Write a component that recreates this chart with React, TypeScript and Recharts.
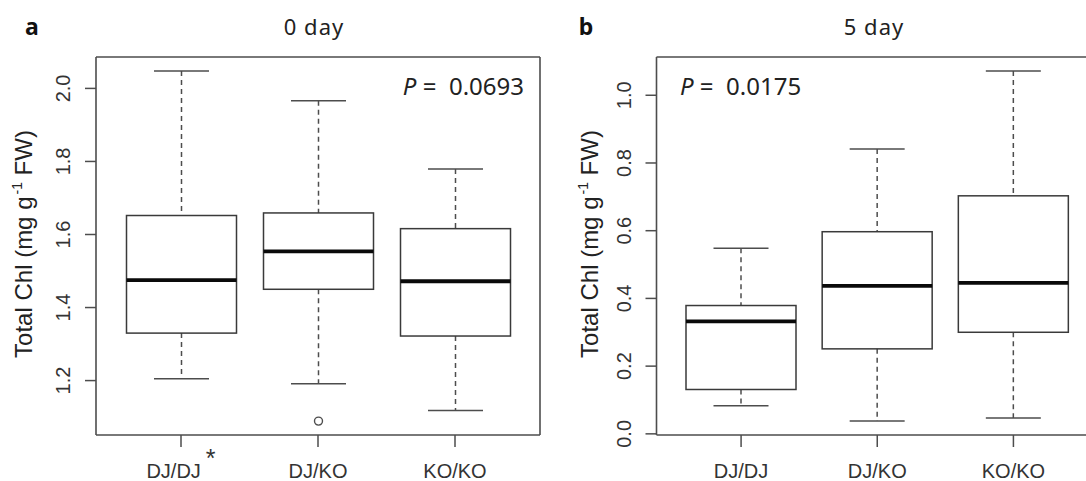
import React from 'react';
import { ComposedChart, Bar, XAxis, YAxis } from 'recharts';

const groups = ['DJ/DJ', 'DJ/KO', 'KO/KO'];

// panel a: 0 day
const low0 = [1.205, 1.191, 1.118];
const q1Day0 = [1.33, 1.45, 1.322];
const med0 = [1.475, 1.554, 1.472];
const q3Day0 = [1.652, 1.659, 1.616];
const high0 = [2.048, 1.966, 1.779];
const out0 = [null, 1.089, null];
const ticks0 = [1.2, 1.4, 1.6, 1.8, 2.0];

// panel b: 5 day
const low5 = [0.083, 0.038, 0.047];
const q1Day5 = [0.131, 0.251, 0.3];
const med5 = [0.332, 0.437, 0.446];
const q3Day5 = [0.379, 0.597, 0.703];
const high5 = [0.548, 0.841, 1.072];
const out5 = [null, null, null];
const ticks5 = [0, 0.2, 0.4, 0.6, 0.8, 1.0];

const build = (low: number[], q1: number[], med: number[], q3: number[], high: number[], out: (number | null)[]) =>
  groups.map((name, i) => ({ name, low: low[i], q1: q1[i], med: med[i], q3: q3[i], high: high[i], out: out[i] }));

const data0 = build(low0, q1Day0, med0, q3Day0, high0, out0);
const data5 = build(low5, q1Day5, med5, q3Day5, high5, out5);

const LINE = '#4d4d4d';
const TICK_FONT = '"Liberation Sans", Arial, sans-serif';
const TEXT_FONT = '"Noto Sans", "Open Sans", sans-serif';

const BoxShape = (props: any) => {
  const { x, y, width, height, payload } = props;
  if (!payload || width == null) return null;
  const { low, q1, med, q3, high, out } = payload;
  const top = Math.min(y, y + height);
  const h = Math.abs(height);
  // linear map inside the [low, high] bar that recharts placed on the y scale
  const py = (v: number) => top + (h * (high - v)) / (high - low);
  const cx = x + width / 2;
  const cap = width / 4;
  return (
    <g>
      <line x1={cx} x2={cx} y1={py(high)} y2={py(q3)} stroke={LINE} strokeWidth={1.5} strokeDasharray="5 4" />
      <line x1={cx} x2={cx} y1={py(q1)} y2={py(low)} stroke={LINE} strokeWidth={1.5} strokeDasharray="5 4" />
      <line x1={cx - cap} x2={cx + cap} y1={py(high)} y2={py(high)} stroke={LINE} strokeWidth={1.5} />
      <line x1={cx - cap} x2={cx + cap} y1={py(low)} y2={py(low)} stroke={LINE} strokeWidth={1.5} />
      <rect x={x} y={py(q3)} width={width} height={py(q1) - py(q3)} fill="none" stroke="#3a3a3a" strokeWidth={1.5} />
      <line x1={x} x2={x + width} y1={py(med)} y2={py(med)} stroke="#0a0a0a" strokeWidth={3.8} />
      {out != null && <circle cx={cx} cy={py(out)} r={4} fill="none" stroke={LINE} strokeWidth={1.4} />}
    </g>
  );
};

interface PanelProps {
  data: any[];
  domain: [number, number];
  ticks: number[];
  left: number;
  width: number;
  axisWidth: number;
  marginRight: number;
  star?: boolean;
}

const Panel: React.FC<PanelProps> = ({ data, domain, ticks, left, width, axisWidth, marginRight, star }) => {
  const yTick = (p: any) => (
    <text
      transform={`translate(${p.x - 15}, ${p.y}) rotate(-90)`}
      textAnchor="middle"
      fontFamily={TICK_FONT}
      fontSize={20}
      fill="#333"
    >
      {Number(p.payload.value).toFixed(1)}
    </text>
  );
  const xTick = (p: any) => (
    <text x={p.x} y={p.y + 31} textAnchor="middle" fontFamily={TICK_FONT} fontSize={20} fill="#333">
      {p.payload.value}
      {star && p.payload.value === 'DJ/DJ' && (
        <tspan dx={5} dy={-11} fontSize={25}>*</tspan>
      )}
    </text>
  );
  return (
    <div style={{ position: 'absolute', left, top: 0 }}>
      <ComposedChart width={width} height={481} data={data} margin={{ top: 56, right: marginRight, bottom: 0, left: 0 }}>
        <XAxis
          dataKey="name"
          height={46}
          padding={{ left: 16.5, right: 16.5 }}
          axisLine={{ stroke: LINE, strokeWidth: 1.6 }}
          tickLine={{ stroke: LINE, strokeWidth: 1.5 }}
          tickSize={12}
          tickMargin={0}
          tick={xTick}
          interval={0}
        />
        <XAxis xAxisId="top" dataKey="name" orientation="top" height={1} tick={false} tickLine={false} axisLine={{ stroke: LINE, strokeWidth: 1.6 }} />
        <YAxis
          domain={domain}
          ticks={ticks}
          type="number"
          allowDataOverflow
          width={axisWidth}
          axisLine={{ stroke: LINE, strokeWidth: 1.6 }}
          tickLine={{ stroke: LINE, strokeWidth: 1.5 }}
          tickSize={11}
          tickMargin={0}
          tick={yTick}
          interval={0}
        />
        <YAxis yAxisId="right" orientation="right" width={1} domain={domain} tick={false} tickLine={false} axisLine={{ stroke: LINE, strokeWidth: 1.6 }} />
        <Bar dataKey={(d: any) => [d.low, d.high]} barSize={110} shape={<BoxShape />} isAnimationActive={false} />
      </ComposedChart>
    </div>
  );
};

const YLabel = ({ x, y }: { x: number; y: number }) => (
  <text transform={`translate(${x}, ${y}) rotate(-90)`} textAnchor="middle" fontFamily={TICK_FONT} fontSize={24} fill="#222">
    Total Chl (mg g
    <tspan fontSize={14} dx={2} dy={-10}>-1</tspan>
    <tspan dy={10}> FW)</tspan>
  </text>
);

const App: React.FC = () => (
  <div style={{ position: 'absolute', left: 0, top: 0, width: 1086, height: 481, overflow: 'hidden', background: '#fff' }}>
    <Panel data={data0} domain={[1.051, 2.086]} ticks={ticks0} left={0} width={560} axisWidth={96} marginRight={19} star />
    <Panel data={data5} domain={[-0.0034, 1.113]} ticks={ticks5} left={540} width={580} axisWidth={116.5} marginRight={21} />
    <svg width={1086} height={481} style={{ position: 'absolute', left: 0, top: 0, pointerEvents: 'none' }}>
      <text x={32} y={35} textAnchor="middle" fontFamily={TEXT_FONT} fontWeight="bold" fontSize={23} fill="#111">a</text>
      <text x={314} y={35} textAnchor="middle" fontFamily={TEXT_FONT} fontSize={22} fill="#222" letterSpacing={1}>0 day</text>
      <text x={586} y={35} textAnchor="middle" fontFamily={TEXT_FONT} fontWeight="bold" fontSize={23} fill="#111">b</text>
      <text x={874} y={35} textAnchor="middle" fontFamily={TEXT_FONT} fontSize={22} fill="#222" letterSpacing={1}>5 day</text>
      <text x={524} y={95} textAnchor="end" fontFamily={TEXT_FONT} fontSize={24} fill="#222" xmlSpace="preserve">
        <tspan fontStyle="italic">P</tspan> =  0.0693
      </text>
      <text x={680} y={95} textAnchor="start" fontFamily={TEXT_FONT} fontSize={24} fill="#222" xmlSpace="preserve">
        <tspan fontStyle="italic">P</tspan> =  0.0175
      </text>
      <YLabel x={32} y={244} />
      <YLabel x={598} y={244} />
    </svg>
  </div>
);

export default App;
